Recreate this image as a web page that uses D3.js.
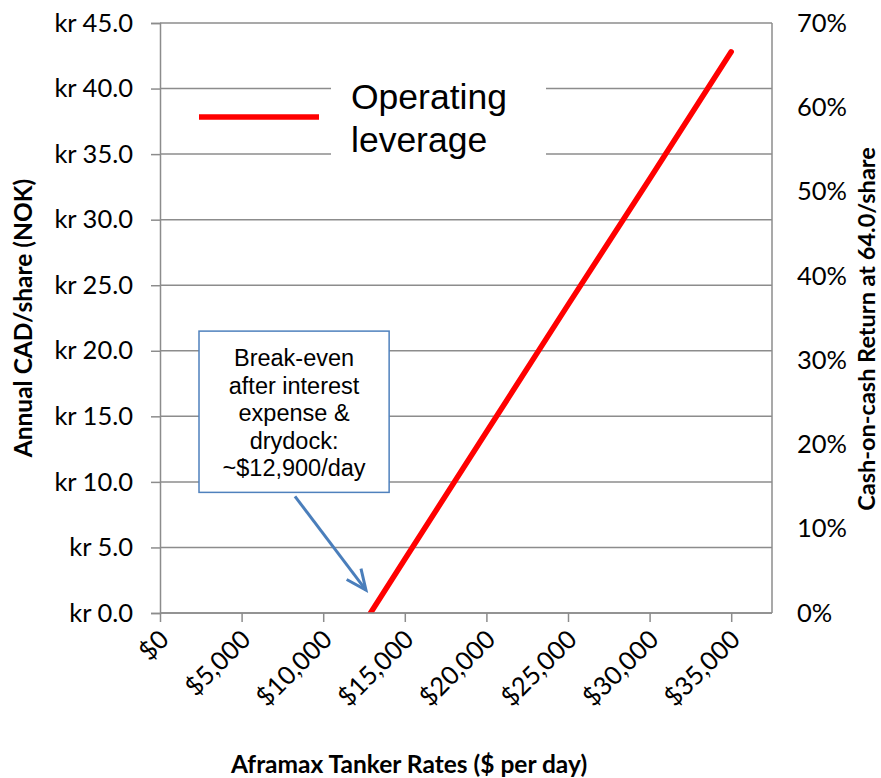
<!DOCTYPE html>
<html>
<head>
<meta charset="utf-8">
<script src="https://cdn.jsdelivr.net/npm/d3@7"></script>
<style>
  html, body { margin: 0; padding: 0; background: #fff; }
  svg { display: block; }
</style>
</head>
<body>
<svg id="chart" width="881" height="778"></svg>
<script>
// ---- data ----
const rates = [12900, 15000, 20000, 25000, 30000, 35000];          // $ per day
const cadPerShare = [0, 4.1, 13.8, 23.5, 33.1, 42.8];              // kr / share
const xTicks = [0, 5000, 10000, 15000, 20000, 25000, 30000, 35000];
const yTicks = [0, 5, 10, 15, 20, 25, 30, 35, 40, 45];
const yRightTicks = [0, 0.1, 0.2, 0.3, 0.4, 0.5, 0.6, 0.7];
const seriesName = ["Operating", "leverage"];
const noteLines = ["Break-even", "after interest", "expense &", "drydock:", "~$12,900/day"];
const xTitle = "Aframax Tanker Rates ($ per day)";
const yTitle = "Annual CAD/share (NOK)";
const y2Title = "Cash-on-cash Return at 64.0/share";

// ---- layout ----
const L = 160, R = 772, T = 23, B = 613;
const svg = d3.select("#chart");
const x = d3.scaleLinear().domain([0, 37500]).range([L, R]);
const y = d3.scaleLinear().domain([0, 45]).range([B, T]);
const y2 = d3.scaleLinear().domain([0, 0.7]).range([B, T]);
const grid = "#8c8c8c";
const labelFont = "Lato, 'Noto Sans', sans-serif";
const arial = "'Liberation Sans', Arial, sans-serif";

// gridlines
svg.append("g").selectAll("line").data(yTicks).join("line")
  .attr("x1", L).attr("x2", R)
  .attr("y1", d => y(d)).attr("y2", d => y(d))
  .attr("stroke", grid).attr("stroke-width", 1.5);

// right border
svg.append("line").attr("x1", R).attr("x2", R).attr("y1", T).attr("y2", B)
  .attr("stroke", grid).attr("stroke-width", 1.5);

// legend white background behind text (covers gridlines)
svg.append("rect").attr("x", 331).attr("y", 62).attr("width", 215).attr("height", 106)
  .attr("fill", "#fff");

// series line
svg.append("clipPath").attr("id", "plotclip").append("rect")
  .attr("x", L).attr("y", T - 10).attr("width", R - L).attr("height", B - T + 10);
const line = d3.line().x((d, i) => x(rates[i])).y(d => y(d));
svg.append("path").datum(cadPerShare)
  .attr("d", line)
  .attr("fill", "none").attr("stroke", "#ff0000").attr("stroke-width", 5.5)
  .attr("stroke-linecap", "round")
  .attr("clip-path", "url(#plotclip)");

// left axis
const yAxis = d3.axisLeft(y).tickValues(yTicks).tickSize(9).tickPadding(18)
  .tickFormat(d => "kr " + d3.format(".1f")(d));
const gy = svg.append("g").attr("transform", `translate(${L},0)`).call(yAxis);
gy.select(".domain").attr("stroke", grid).attr("stroke-width", 1.5);
gy.selectAll(".tick line").attr("stroke", grid).attr("stroke-width", 1.5);
gy.selectAll(".tick text").attr("font-family", labelFont).attr("font-size", 25.5).attr("fill", "#000");

// right axis (labels only)
const y2Axis = d3.axisRight(y2).tickValues(yRightTicks).tickSize(0).tickPadding(25)
  .tickFormat(d3.format(".0%"));
const gy2 = svg.append("g").attr("transform", `translate(${R},0)`).call(y2Axis);
gy2.select(".domain").remove();
gy2.selectAll(".tick text").attr("font-family", labelFont).attr("font-size", 25.5).attr("fill", "#000");

// bottom axis
const xAxis = d3.axisBottom(x).tickValues(xTicks).tickSize(9).tickFormat(d3.format("$,"));
const gx = svg.append("g").attr("transform", `translate(0,${B})`).call(xAxis);
gx.select(".domain").attr("stroke", grid).attr("stroke-width", 1.5)
  .attr("d", `M${L},0H${R}`);
gx.selectAll(".tick line").attr("stroke", grid).attr("stroke-width", 1.5);
gx.selectAll(".tick text")
  .attr("font-family", labelFont).attr("font-size", 25.5).attr("fill", "#000")
  .attr("text-anchor", "end").attr("dy", 0)
  .attr("transform", "translate(10,28) rotate(-45)")
  .attr("y", 0).attr("x", 0);

// axis titles
svg.append("text").attr("x", 409).attr("y", 773).attr("text-anchor", "middle")
  .attr("font-family", labelFont).attr("font-weight", "bold").attr("font-size", 24.5)
  .text(xTitle);
svg.append("text").attr("transform", "translate(32,318) rotate(-90)").attr("text-anchor", "middle")
  .attr("font-family", labelFont).attr("font-weight", "bold").attr("font-size", 24.5)
  .text(yTitle);
svg.append("text").attr("transform", "translate(875,329) rotate(-90)").attr("text-anchor", "middle")
  .attr("font-family", labelFont).attr("font-weight", "bold").attr("font-size", 23.5)
  .text(y2Title);

// legend
svg.append("line").attr("x1", 199).attr("x2", 319).attr("y1", 117).attr("y2", 117)
  .attr("stroke", "#ff0000").attr("stroke-width", 5.5);
svg.append("text").attr("font-family", arial).attr("font-size", 35.5).attr("fill", "#000")
  .selectAll("tspan").data(seriesName).join("tspan")
  .attr("x", 351).attr("y", (d, i) => 109 + i * 43).text(d => d);

// annotation box (data-space anchors)
const box = { x0: 2390, x1: 14040, y0: 21.5, y1: 9.2 };
svg.append("rect")
  .attr("x", x(box.x0)).attr("y", y(box.y0))
  .attr("width", x(box.x1) - x(box.x0)).attr("height", y(box.y1) - y(box.y0))
  .attr("fill", "#fff").attr("stroke", "#4f81bd").attr("stroke-width", 1.5);
svg.append("text").attr("font-family", arial).attr("font-size", 23.5).attr("fill", "#000")
  .attr("text-anchor", "middle")
  .selectAll("tspan").data(noteLines).join("tspan")
  .attr("x", (x(box.x0) + x(box.x1)) / 2).attr("y", (d, i) => 366 + i * 27.5).text(d => d);

// arrow
const a0 = [x(8270), y(8.9)], a1 = [x(12620), y(1.75)];
const ang = Math.atan2(a1[1] - a0[1], a1[0] - a0[0]);
const ah = 22, spread = 0.42;
svg.append("line").attr("x1", a0[0]).attr("y1", a0[1]).attr("x2", a1[0]).attr("y2", a1[1])
  .attr("stroke", "#4a7ebb").attr("stroke-width", 3);
svg.append("path")
  .attr("d", `M${a1[0] - ah * Math.cos(ang - spread)},${a1[1] - ah * Math.sin(ang - spread)}L${a1[0]},${a1[1]}L${a1[0] - ah * Math.cos(ang + spread)},${a1[1] - ah * Math.sin(ang + spread)}`)
  .attr("fill", "none").attr("stroke", "#4a7ebb").attr("stroke-width", 3)
  .attr("stroke-linejoin", "miter");
</script>
</body>
</html>
